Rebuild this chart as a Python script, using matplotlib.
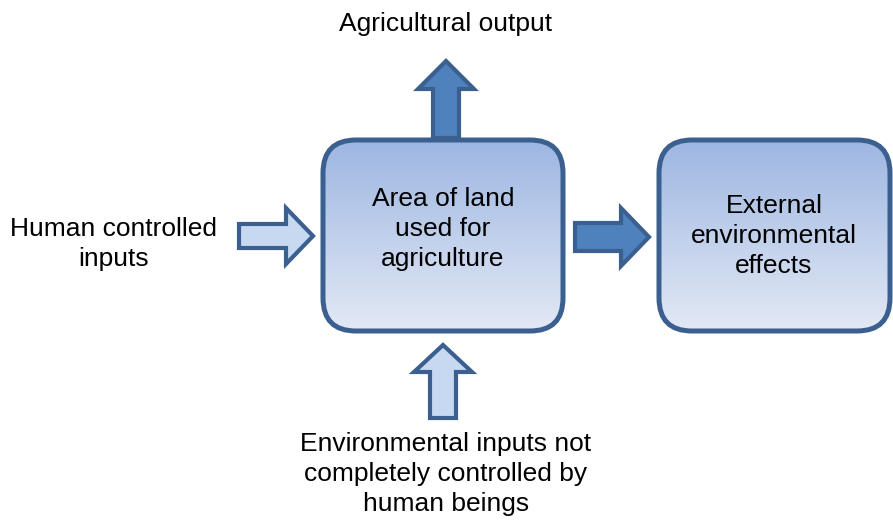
import matplotlib.pyplot as plt
import numpy as np
from matplotlib.patches import FancyBboxPatch, Polygon
from matplotlib.colors import LinearSegmentedColormap

plt.rcParams['font.family'] = ['Liberation Sans', 'DejaVu Sans']

# boxes: label, (x0, y0, x1, y1) in pixel coords (y down)
box_labels = ["Area of land\nused for\nagriculture", "External\nenvironmental\neffects"]
box_extents = [(323, 140, 563, 331), (659, 140, 890, 331)]
box_text_pos = [(443, 229), (774, 236)]

# outer labels
side_labels = ["Agricultural output",
               "Human controlled\ninputs",
               "Environmental inputs not\ncompletely controlled by\nhuman beings"]
side_text_pos = [(446, 24), (114, 244), (446, 474)]

# up arrows: x centre, tip y, head base y, shaft half width, tail y
up_arrows = [(446, 61, 89, 13, 138, "dark"), (443, 345, 372, 13, 418, "light")]
# right arrows: y centre, tip x, head base x, shaft half width, tail x
right_arrows = [(236, 313, 286, 12, 239, "light"), (237, 649, 621, 14, 575, "dark")]
head_half = [28, 29]

edge = "#3b6090"
fills = {"dark": "#4f81bd", "light": "#c6d9f1"}

fig = plt.figure(figsize=(8.93, 5.2), dpi=100)
ax = fig.add_axes([0, 0, 1, 1])
ax.set_xlim(0, 893)
ax.set_ylim(520, 0)
ax.axis("off")

cmap = LinearSegmentedColormap.from_list("g", ["#9db6e2", "#e3e9f5"])
grad = np.linspace(0, 1, 256).reshape(-1, 1)

for (x0, y0, x1, y1), lab, (tx, ty) in zip(box_extents, box_labels, box_text_pos):
    r = 33
    p = FancyBboxPatch((x0 + r, y0 + r), x1 - x0 - 2 * r, y1 - y0 - 2 * r,
                       boxstyle=f"round,pad={r}", facecolor="none",
                       edgecolor=edge, linewidth=3.6, zorder=3)
    ax.add_patch(p)
    im = ax.imshow(grad, extent=(x0, x1, y1, y0), cmap=cmap, aspect="auto", zorder=2)
    im.set_clip_path(p)
    ax.text(tx, ty, lab, ha="center", va="center", fontsize=19,
            linespacing=1.3, zorder=4)

for (cx, tip, base, sw, tail, kind), hh in zip(up_arrows, head_half):
    pts = [(cx, tip), (cx + hh, base), (cx + sw, base), (cx + sw, tail),
           (cx - sw, tail), (cx - sw, base), (cx - hh, base)]
    ax.add_patch(Polygon(pts, closed=True, facecolor=fills[kind], edgecolor=edge,
                         linewidth=3, joinstyle="miter", zorder=1))

for (cy, tip, base, sw, tail, kind), hh in zip(right_arrows, head_half):
    pts = [(tip, cy), (base, cy + hh), (base, cy + sw), (tail, cy + sw),
           (tail, cy - sw), (base, cy - sw), (base, cy - hh)]
    ax.add_patch(Polygon(pts, closed=True, facecolor=fills[kind], edgecolor=edge,
                         linewidth=3, joinstyle="miter", zorder=1))

for lab, (tx, ty) in zip(side_labels, side_text_pos):
    ax.text(tx, ty, lab, ha="center", va="center", fontsize=19, linespacing=1.3)

fig.savefig("out.png", dpi=100)
